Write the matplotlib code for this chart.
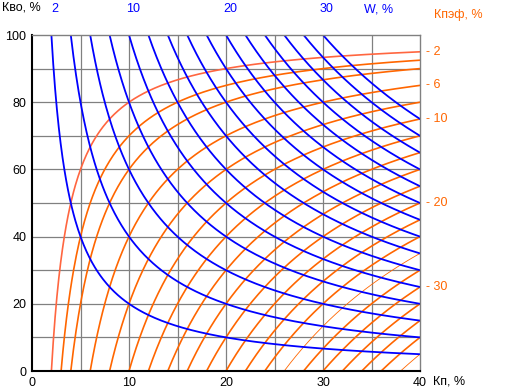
import numpy as np
import matplotlib
matplotlib.use("Agg")
import matplotlib.pyplot as plt

# W, % (blue hyperbolas) and Кпэф, % (orange curves)
w_levels = [2, 4, 6, 8, 10, 12, 14, 16, 18, 20, 22, 24, 26, 28, 30]
kpef_levels = [2, 3, 4, 6, 8, 10, 12, 14, 16, 18, 20, 22, 24, 26, 28, 30, 32, 34, 36, 38]
w_labels = [2, 10, 20, 30]
kpef_labels = [2, 6, 10, 20, 30]
x_ticks = [0, 10, 20, 30, 40]
y_ticks = [0, 20, 40, 60, 80, 100]
kp_max = 40

blue = "#0000FF"
orange = "#FF6600"

plt.rcParams["font.family"] = ["Liberation Sans", "DejaVu Sans"]

fig = plt.figure(figsize=(5.32, 3.92), dpi=100)
ax = fig.add_axes([32 / 532, 21 / 392, 388 / 532, 336 / 392])

# сетка
for x in np.arange(5, kp_max, 5):
    ax.axvline(x, color="#808080", lw=0.9, zorder=1)
for y in np.arange(10, 100, 10):
    ax.axhline(y, color="#808080", lw=0.9, zorder=1)

# кривые Кпэф: Кво = 100 * (1 - Кпэф / Кп)
for k in kpef_levels:
    kp = np.linspace(k, kp_max, 400)
    kvo = 100 * (1 - k / kp)
    col = "#FF6640" if k == 2 else orange
    lw = 0.6 if k in (26, 38) else 1.2
    ax.plot(kp, kvo, color=col, lw=lw, zorder=2)

# кривые W: Кво = 100 * W / Кп
for w in w_levels:
    kp = np.linspace(w, kp_max, 400)
    kvo = 100 * w / kp
    ax.plot(kp, kvo, color=blue, lw=1.3, zorder=3)

ax.set_xlim(0, kp_max)
ax.set_ylim(0, 100)
ax.set_xticks(x_ticks)
ax.set_yticks(y_ticks)
ax.tick_params(length=0, labelsize=9, pad=4)

for side in ("left", "bottom"):
    ax.spines[side].set_color("black")
    ax.spines[side].set_linewidth(1.5)
for side in ("top", "right"):
    ax.spines[side].set_color("#808080")
    ax.spines[side].set_linewidth(1.0)
for s in ax.spines.values():
    s.set_zorder(4)

# подписи
fig.text(2 / 532, 1 - 8 / 392, "Кво, %", fontsize=9, ha="left", va="center")
fig.text(433 / 532, 1 - 381 / 392, "Кп, %", fontsize=9, ha="left", va="center")
for w in w_labels:
    ax.text(w + 0.4, 107.7, str(w), color=blue, fontsize=9, ha="center",
            va="center", clip_on=False)
ax.text(34.2, 107.7, "W, %", color=blue, fontsize=9, ha="left", va="center",
        clip_on=False)
ax.text(41.4, 106.0, "Кпэф, %", color=orange, fontsize=9, ha="left",
        va="center", clip_on=False)
for k in kpef_labels:
    ax.text(kp_max + 0.6, 100 * (1 - k / kp_max), "- " + str(k), color=orange,
            fontsize=9, ha="left", va="center", clip_on=False)

fig.savefig("out.png", dpi=100)
